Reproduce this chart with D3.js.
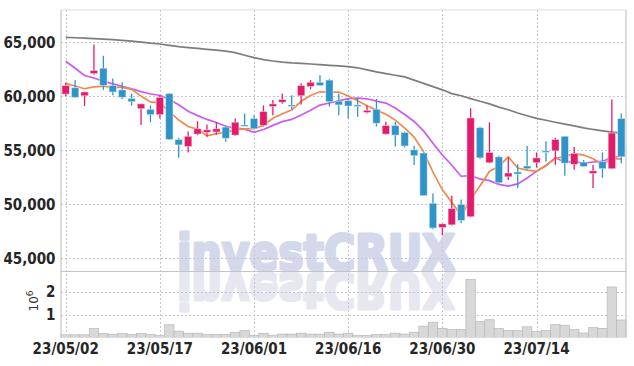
<!DOCTYPE html>
<html><head><meta charset="utf-8">
<script src="https://cdn.jsdelivr.net/npm/d3@7"></script>
<style>body{margin:0;background:#fff}svg{display:block}</style>
</head><body>
<script>
const dates = ["23/05/02","23/05/03","23/05/04","23/05/08","23/05/09","23/05/10","23/05/11","23/05/12","23/05/15","23/05/16",
"23/05/17","23/05/18","23/05/19","23/05/22","23/05/23","23/05/24","23/05/25","23/05/26","23/05/30","23/05/31",
"23/06/01","23/06/02","23/06/05","23/06/07","23/06/08","23/06/09","23/06/12","23/06/13","23/06/14","23/06/15",
"23/06/16","23/06/19","23/06/20","23/06/21","23/06/22","23/06/23","23/06/26","23/06/27","23/06/28","23/06/29",
"23/06/30","23/07/03","23/07/04","23/07/05","23/07/06","23/07/07","23/07/10","23/07/11","23/07/12","23/07/13",
"23/07/14","23/07/17","23/07/18","23/07/19","23/07/20","23/07/21","23/07/24","23/07/25","23/07/26","23/07/27"];
const openP = [60200,60800,60050,62100,62600,61000,60600,59800,58850,58800,
58300,60250,56000,55350,56500,56650,56700,57150,56400,57350,
57950,57300,59050,59450,59200,60050,60900,61300,61500,59550,
59600,59200,58500,58800,56500,57300,56650,55050,54750,50100,
47850,48100,50000,48850,57100,53850,54400,52550,53000,53550,
53850,54950,54950,56300,53700,53900,52850,53950,53300,57950];
const highP = [61250,61500,60450,64800,63750,61650,61300,60250,59300,59150,
60100,60300,56150,56750,57700,57400,57600,57300,57950,58400,
58250,59150,59650,60250,60100,61200,61500,61950,61600,60250,
59800,59850,59150,59750,57650,57650,56750,55400,54800,51000,
48200,50800,50450,58900,57200,57600,54500,54300,53700,55400,
54800,55850,56150,56300,55300,54100,53650,54800,59700,58400];
const lowP = [60000,59850,59100,62000,60600,60100,59750,59150,57350,57600,
57950,55950,54300,54800,56400,56250,56450,55800,56350,57250,
56950,57200,58250,59300,58800,59250,60650,60950,59050,58250,
57950,58100,58400,57200,56450,55350,55250,53650,50800,47700,
47150,48050,48250,48800,54200,53800,51900,52250,51500,53200,
53400,53950,53650,52650,53200,53450,51500,52450,53250,53800];
const closeP = [61000,59900,60400,62400,61000,60400,59900,59500,59300,58300,
59900,56000,55500,56300,57000,56900,57000,56100,57600,57300,
57000,58600,59300,59700,59100,61000,61300,61000,59500,59200,
59100,59100,58700,57500,57300,56400,55400,54500,50800,47800,
48200,49600,48500,58000,54300,54800,52000,52900,52800,53300,
54300,54800,56000,53800,54700,53500,53100,53300,56600,54400];
const volumeM = [0.12,0.12,0.12,0.39,0.18,0.14,0.18,0.14,0.18,0.14,
0.09,0.56,0.28,0.19,0.19,0.14,0.14,0.14,0.23,0.30,
0.09,0.19,0.10,0.15,0.15,0.19,0.15,0.15,0.23,0.15,
0.19,0.09,0.09,0.13,0.13,0.19,0.15,0.23,0.50,0.67,
0.40,0.35,0.35,2.55,0.71,0.78,0.39,0.31,0.30,0.47,
0.27,0.31,0.57,0.54,0.35,0.20,0.44,0.40,2.22,0.77];
const ma5 = [61200,60950,60700,60880,60940,60820,60820,60640,60020,59480,
59380,58600,57800,57200,56940,56340,56540,56660,56920,56980,
57000,57320,57960,58380,58740,59540,60080,60420,60380,60400,
60020,59580,59120,58720,58340,57800,57060,56220,54880,52980,
51340,50180,48980,50420,51720,53040,53520,54400,53360,53160,
53060,53620,54240,54440,54720,54560,54220,53680,54240,54180];
const ma10 = [63250,62600,61930,61700,61400,61150,60920,60700,60430,60210,
60100,59710,59220,58610,58210,57860,57570,57230,57060,56960,
56670,56930,57310,57650,57860,58270,58700,59190,59380,59570,
59780,59830,59770,59550,59370,58910,58320,57670,56800,55660,
54570,53620,52600,52650,52350,52190,51850,51690,51890,52440,
53050,53570,54320,53900,53940,53810,53920,53970,54350,54460];
const maLong = [65460,65420,65380,65340,65290,65250,65180,65100,65020,64920,
64840,64720,64600,64510,64430,64350,64270,64190,64040,63800,
63580,63400,63270,63170,63100,63050,62990,62930,62870,62810,
62740,62640,62450,62260,62100,61950,61800,61500,61200,60900,
60600,60250,60050,59780,59540,59300,59000,58750,58450,58200,
57960,57780,57600,57420,57260,57080,56930,56800,56680,56600];
const priceTicks = [45000,50000,55000,60000,65000];
const volTicks = [1,2];
const dateTicks = ["23/05/02","23/05/17","23/06/01","23/06/16","23/06/30","23/07/14"];

const W=634,H=366;
const L=61,R=626,T=10,D=271.5,B=337.5;
const svg = d3.select("body").append("svg").attr("width",W).attr("height",H);
svg.append("rect").attr("width",W).attr("height",H).attr("fill","#fff");

const x = d3.scaleBand().domain(dates).range([L,R]).padding(0);
const bw = x.bandwidth();
const cx = d => x(d)+bw/2;
const y = d3.scaleLinear().domain([43780,67990]).range([D,T]);
const yv = d3.scaleLinear().domain([0,2.9]).range([B,D]);

const fontAxis = "'Liberation Sans Narrow','DejaVu Sans Condensed',sans-serif";

// watermark
const wmFont = "'DejaVu Sans',sans-serif";
const wm = svg.append("g");
function wmText(g, fill){
  g.append("text").attr("x",177).attr("y",D-1.5).text("investCRUX")
    .attr("font-family",wmFont).attr("font-weight","bold").attr("font-size",50)
    .attr("textLength",278).attr("lengthAdjust","spacingAndGlyphs")
    .attr("fill",fill).attr("stroke",fill).attr("stroke-width",3.2).attr("stroke-linejoin","round");
}
wmText(wm, "#d3d9ea");
wmText(wm.append("g").attr("transform",`translate(0,${2*D}) scale(1,-1)`), "#e7e8ef");

// grid
const grid = svg.append("g").attr("stroke","#c6c6da").attr("stroke-width",1).attr("stroke-dasharray","2,2");
grid.selectAll(".hp").data(priceTicks).join("line")
  .attr("x1",L).attr("x2",R).attr("y1",d=>Math.round(y(d))+0.5).attr("y2",d=>Math.round(y(d))+0.5);
grid.selectAll(".hv").data(volTicks).join("line").attr("class","hv")
  .attr("x1",L).attr("x2",R).attr("y1",d=>Math.round(yv(d))+0.5).attr("y2",d=>Math.round(yv(d))+0.5);
grid.selectAll(".vv").data(dateTicks).join("line").attr("class","vv")
  .attr("x1",d=>Math.round(cx(d))+0.5).attr("x2",d=>Math.round(cx(d))+0.5).attr("y1",T).attr("y2",B);

// volume
svg.append("g").selectAll("rect").data(dates).join("rect")
  .attr("x",d=>x(d)).attr("width",bw)
  .attr("y",(d,i)=>yv(volumeM[i])).attr("height",(d,i)=>B-yv(volumeM[i]))
  .attr("fill","#d8d8d8").attr("stroke","#b9b9b9").attr("stroke-width",0.7);

// moving averages
const line = d3.line().x((d,i)=>cx(dates[i])).y(d=>y(d));
svg.append("path").attr("d",line(maLong)).attr("fill","none").attr("stroke","#7d7d7d").attr("stroke-width",1.7);
svg.append("path").attr("d",line(ma10)).attr("fill","none").attr("stroke","#c95cf0").attr("stroke-width",1.7);
svg.append("path").attr("d",line(ma5)).attr("fill","none").attr("stroke","#ef8a4e").attr("stroke-width",1.7);

// candles
const up = "#e31b6b", dn = "#2f95c9";
const col = i => closeP[i] >= openP[i] ? up : dn;
const cg = svg.append("g");
cg.selectAll("line").data(dates).join("line")
  .attr("x1",d=>cx(d)).attr("x2",d=>cx(d))
  .attr("y1",(d,i)=>y(highP[i])).attr("y2",(d,i)=>y(lowP[i]))
  .attr("stroke",(d,i)=>col(i)).attr("stroke-width",1.3);
cg.selectAll("rect").data(dates).join("rect")
  .attr("x",d=>cx(d)-3.7).attr("width",7.4)
  .attr("y",(d,i)=>y(Math.max(openP[i],closeP[i])))
  .attr("height",(d,i)=>Math.max(1.5,Math.abs(y(openP[i])-y(closeP[i]))))
  .attr("fill",(d,i)=>col(i)).attr("stroke","#fff").attr("stroke-opacity",0.45).attr("stroke-width",1);

// frame
const fr = svg.append("g").attr("stroke","#c4c4c4").attr("stroke-width",1.2);
fr.append("line").attr("x1",L).attr("x2",L).attr("y1",T).attr("y2",B);
fr.append("line").attr("x1",R).attr("x2",R).attr("y1",T).attr("y2",B);
fr.append("line").attr("x1",L).attr("x2",R).attr("y1",T).attr("y2",T).attr("stroke","#dcdcdc");
fr.append("line").attr("x1",L).attr("x2",R).attr("y1",D).attr("y2",D);
fr.append("line").attr("x1",L).attr("x2",R).attr("y1",B).attr("y2",B).attr("stroke","#dcdcdc");

// axes
function styleAxis(g){
  g.select(".domain").remove();
  g.selectAll("line").remove();
  g.selectAll("text").attr("font-family",fontAxis).attr("font-weight","bold").attr("font-size",15).attr("fill","#262626");
}
svg.append("g").attr("transform",`translate(${L},0)`)
  .call(d3.axisLeft(y).tickValues(priceTicks).tickFormat(d3.format(",")).tickSize(0).tickPadding(5.5))
  .call(styleAxis);
svg.append("g").attr("transform",`translate(${L},0)`)
  .call(d3.axisLeft(yv).tickValues(volTicks).tickFormat(d3.format("d")).tickSize(0).tickPadding(5.5))
  .call(styleAxis);
svg.append("g").attr("transform",`translate(0,${B})`)
  .call(d3.axisBottom(x).tickValues(dateTicks).tickSize(0).tickPadding(6))
  .call(styleAxis);

// volume unit label
const ul = svg.append("text").attr("transform","translate(38,301) rotate(-90)")
  .attr("text-anchor","middle").attr("font-family","'DejaVu Sans',sans-serif").attr("font-size",12).attr("fill","#333");
ul.append("tspan").text("10");
ul.append("tspan").attr("dy",-5).attr("font-size",9).text("6");
</script>
</body></html>
